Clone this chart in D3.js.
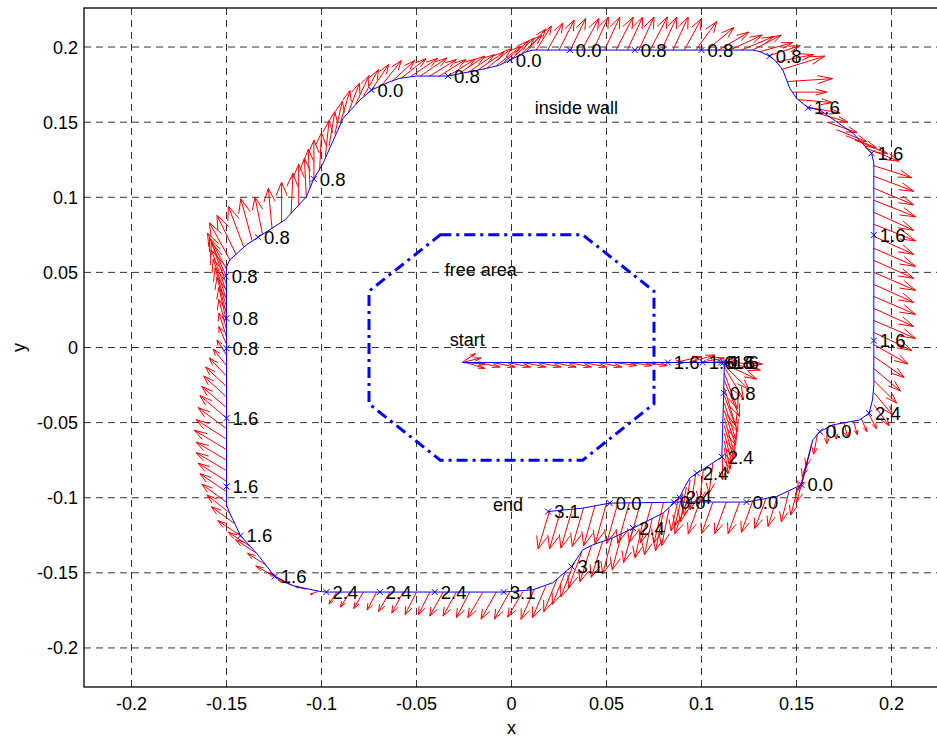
<!DOCTYPE html>
<html>
<head>
<meta charset="utf-8">
<script src="https://cdn.jsdelivr.net/npm/d3@7"></script>
<style>
  body { margin: 0; background: #fff; }
  text { font-family: "Liberation Sans", Arial, Helvetica, sans-serif; fill: #000; }
</style>
</head>
<body>
<svg id="chart" width="937" height="737"></svg>
<script>
// ---- axes ----
const xTickValues = [-0.2, -0.15, -0.1, -0.05, 0, 0.05, 0.1, 0.15, 0.2];
const xTickLabels = ["-0.2", "-0.15", "-0.1", "-0.05", "0", "0.05", "0.1", "0.15", "0.2"];
const yTickValues = [-0.2, -0.15, -0.1, -0.05, 0, 0.05, 0.1, 0.15, 0.2];
const yTickLabels = ["-0.2", "-0.15", "-0.1", "-0.05", "0", "0.05", "0.1", "0.15", "0.2"];

// ---- free area (octagon) ----
const freeArea = [
  [-0.0375, 0.075], [0.0375, 0.075], [0.075, 0.0375], [0.075, -0.0375],
  [0.0375, -0.075], [-0.0375, -0.075], [-0.075, -0.0375], [-0.075, 0.0375]
];

// ---- robot track (x, y) ----
const track = [
  [-0.026, -0.010], [0.112, -0.010], [0.1117, -0.030], [0.1107, -0.0728],
  [0.1044, -0.0781], [0.0991, -0.0826], [0.0975, -0.0836], [0.0939, -0.0868],
  [0.0913, -0.0925], [0.0886, -0.0992], [0.086, -0.1029], [0.1237, -0.1029],
  [0.1395, -0.0992], [0.1526, -0.0914], [0.1586, -0.0615], [0.1623, -0.056],
  [0.1691, -0.0515], [0.1833, -0.0482], [0.1882, -0.0437], [0.1900, -0.0349],
  [0.1907, -0.025], [0.1907, 0.1228], [0.1895, 0.1293], [0.1798, 0.1426],
  [0.1623, 0.1581], [0.1561, 0.1596], [0.1500, 0.1659], [0.1465, 0.1725],
  [0.1428, 0.1847], [0.1395, 0.1902], [0.1359, 0.1940], [0.1307, 0.1969],
  [0.1272, 0.1980], [0.0114, 0.1980], [0.0079, 0.1969], [-0.0009, 0.1913],
  [-0.0062, 0.1880], [-0.0132, 0.1858], [-0.0334, 0.1807], [-0.0500, 0.1807],
  [-0.0588, 0.1792], [-0.0641, 0.1769], [-0.0737, 0.1714], [-0.0798, 0.1647],
  [-0.0886, 0.1526], [-0.0992, 0.1226], [-0.1041, 0.1122], [-0.1079, 0.1004],
  [-0.1193, 0.0849], [-0.1334, 0.0734], [-0.1395, 0.0683], [-0.1483, 0.0583],
  [-0.1500, 0.0538], [-0.1500, -0.1047], [-0.1483, -0.1102], [-0.1426, -0.1253],
  [-0.1342, -0.1369], [-0.1246, -0.1524], [-0.1149, -0.1586], [-0.1009, -0.1624],
  [-0.0974, -0.1628], [-0.0041, -0.1628], [0.0112, -0.1613], [0.0217, -0.1566],
  [0.0316, -0.1458], [0.0375, -0.1347], [0.0428, -0.1314], [0.0533, -0.1267],
  [0.0640, -0.1202], [0.0798, -0.1102], [0.0860, -0.1030], [0.0517, -0.1036],
  [0.0377, -0.1069], [0.0193, -0.1092]
];

// ---- sampled poses with their labels ----
const poses = [
  [0.0823, -0.010, "1.6"], [0.1007, -0.010, "1.6"], [0.1103, -0.010, "0.8"],
  [0.1115, -0.010, "1.6"], [0.1135, -0.010, "1.6"], [0.1117, -0.0302, "0.8"],
  [0.1107, -0.0728, "2.4"], [0.0975, -0.0836, "2.4"], [0.0855, -0.1030, "0.0"],
  [0.0886, -0.1000, "2.4"], [0.1237, -0.1029, "0.0"], [0.1526, -0.0914, "0.0"],
  [0.1623, -0.0560, "0.0"], [0.1882, -0.0437, "2.4"], [0.1907, 0.0046, "1.6"],
  [0.1907, 0.0749, "1.6"], [0.1895, 0.1293, "1.6"], [0.1561, 0.1596, "1.6"],
  [0.1359, 0.1940, "0.8"], [0.1000, 0.1980, "0.8"], [0.0649, 0.1980, "0.8"],
  [0.0307, 0.1980, "0.0"], [-0.0009, 0.1913, "0.0"], [-0.0334, 0.1807, "0.8"],
  [-0.0737, 0.1714, "0.0"], [-0.1041, 0.1122, "0.8"], [-0.1334, 0.0734, "0.8"],
  [-0.1504, 0.0473, "0.8"], [-0.1500, 0.0195, "0.8"], [-0.1500, -0.0005, "0.8"],
  [-0.1500, -0.0470, "1.6"], [-0.1500, -0.0925, "1.6"], [-0.1426, -0.1253, "1.6"],
  [-0.1246, -0.1524, "1.6"], [-0.0974, -0.1628, "2.4"], [-0.0693, -0.1628, "2.4"],
  [-0.0404, -0.1628, "2.4"], [-0.0041, -0.1628, "3.1"], [0.0316, -0.1458, "3.1"],
  [0.0640, -0.1202, "2.4"], [0.0517, -0.1036, "0.0"], [0.0193, -0.1092, "3.1"]
];

// ---- direction vectors along the track: x, y, u, v ----
const arrows = [
  [-0.026,-0.010,0.007,0.006], [-0.026,-0.010,0.010,0.003], [-0.025,-0.010,0.011,-0.001],
  [-0.024,-0.010,0.010,-0.004], [-0.018,-0.010,0.012,-0.003], [-0.010,-0.010,0.012,-0.003],
  [-0.002,-0.010,0.012,-0.003], [0.006,-0.010,0.012,-0.003], [0.014,-0.010,0.012,-0.003],
  [0.022,-0.010,0.012,-0.003], [0.030,-0.010,0.012,-0.003], [0.038,-0.010,0.012,-0.003],
  [0.046,-0.010,0.012,-0.003], [0.054,-0.010,0.012,-0.002], [0.062,-0.010,0.012,-0.002],
  [0.070,-0.010,0.012,-0.002], [0.078,-0.010,0.013,0.000], [0.086,-0.010,0.014,0.004],
  [0.093,-0.010,0.014,0.005], [0.099,-0.010,0.013,0.003], [0.105,-0.010,0.014,0.001],
  [0.112,-0.010,0.020,-0.001], [0.112,-0.010,0.019,-0.005], [0.112,-0.011,0.017,-0.010],
  [0.112,-0.012,0.013,-0.016], [0.112,-0.013,0.010,-0.021],
  [0.112,-0.017,0.007,-0.024], [0.112,-0.022,0.008,-0.024], [0.112,-0.027,0.006,-0.025],
  [0.112,-0.032,0.007,-0.024], [0.112,-0.037,0.006,-0.024], [0.112,-0.042,0.006,-0.023],
  [0.112,-0.047,0.005,-0.022], [0.112,-0.052,0.005,-0.022], [0.112,-0.057,0.004,-0.020],
  [0.112,-0.062,0.003,-0.019], [0.112,-0.067,0.002,-0.017], [0.111,-0.072,0.000,-0.016],
  [0.106,-0.077,-0.002,-0.020], [0.101,-0.081,-0.002,-0.022], [0.097,-0.084,-0.003,-0.024],
  [0.094,-0.088,-0.003,-0.024], [0.092,-0.093,-0.003,-0.023], [0.090,-0.097,-0.004,-0.022],
  [0.088,-0.100,-0.004,-0.022],
  [0.092,-0.103,-0.006,-0.021], [0.099,-0.103,-0.006,-0.021], [0.106,-0.103,-0.006,-0.021],
  [0.113,-0.103,-0.006,-0.021], [0.120,-0.103,-0.006,-0.021], [0.127,-0.102,-0.006,-0.021],
  [0.134,-0.1005,-0.006,-0.020], [0.140,-0.099,-0.005,-0.020], [0.146,-0.096,-0.004,-0.020],
  [0.151,-0.0925,-0.004,-0.019],
  [0.154,-0.085,-0.004,-0.018], [0.156,-0.077,-0.005,-0.018], [0.157,-0.070,-0.004,-0.016],
  [0.158,-0.064,-0.003,-0.015], [0.161,-0.058,-0.002,-0.013],
  [0.166,-0.053,0.000,-0.011], [0.170,-0.051,0.001,-0.010], [0.175,-0.050,0.002,-0.010],
  [0.180,-0.049,0.002,-0.009], [0.184,-0.047,0.003,-0.009], [0.188,-0.044,0.004,-0.010],
  [0.1907,-0.038,0.008,-0.014], [0.1907,-0.030,0.010,-0.015], [0.1907,-0.022,0.012,-0.015],
  [0.1907,-0.014,0.014,-0.015], [0.1907,-0.006,0.016,-0.014], [0.1907,0.002,0.018,-0.013],
  [0.1907,0.010,0.020,-0.012], [0.1907,0.018,0.022,-0.012], [0.1907,0.026,0.021,-0.012],
  [0.1907,0.034,0.022,-0.012], [0.1907,0.042,0.021,-0.012], [0.1907,0.050,0.022,-0.012],
  [0.1907,0.058,0.021,-0.012], [0.1907,0.066,0.022,-0.012], [0.1907,0.074,0.021,-0.012],
  [0.1907,0.082,0.022,-0.011], [0.1907,0.090,0.021,-0.012], [0.1907,0.098,0.022,-0.011],
  [0.1907,0.106,0.021,-0.011], [0.1907,0.114,0.021,-0.010], [0.1907,0.121,0.020,-0.008],
  [0.186,0.133,0.018,-0.009], [0.181,0.138,0.017,-0.009], [0.176,0.141,0.016,-0.008],
  [0.171,0.145,0.016,-0.008], [0.166,0.150,0.016,-0.007], [0.161,0.156,0.016,-0.006],
  [0.156,0.160,0.017,-0.004], [0.151,0.165,0.018,-0.002], [0.148,0.170,0.018,0.000],
  [0.145,0.177,0.024,0.002], [0.142,0.185,0.023,0.009], [0.139,0.190,0.020,0.005],
  [0.135,0.194,0.017,0.007], [0.131,0.197,0.017,0.006], [0.127,0.198,0.015,0.010],
  [0.121,0.198,0.017,0.009], [0.115,0.198,0.017,0.010], [0.109,0.198,0.016,0.012],
  [0.103,0.198,0.014,0.015], [0.097,0.198,0.011,0.019], [0.091,0.198,0.009,0.021],
  [0.085,0.198,0.008,0.022], [0.079,0.198,0.008,0.022], [0.073,0.198,0.009,0.022],
  [0.067,0.198,0.008,0.022], [0.061,0.198,0.008,0.022], [0.055,0.198,0.009,0.022],
  [0.049,0.198,0.008,0.022], [0.043,0.198,0.008,0.022], [0.037,0.198,0.009,0.021],
  [0.031,0.198,0.008,0.021], [0.025,0.198,0.008,0.020], [0.019,0.198,0.008,0.018],
  [0.013,0.198,0.008,0.016], [0.008,0.197,0.010,0.015],
  [0.004,0.194,0.012,0.014], [0.000,0.192,0.012,0.014], [-0.004,0.190,0.013,0.014],
  [-0.008,0.1875,0.013,0.013], [-0.013,0.186,0.013,0.013], [-0.018,0.1845,0.014,0.012],
  [-0.023,0.183,0.014,0.012], [-0.028,0.182,0.014,0.012], [-0.033,0.181,0.014,0.011],
  [-0.038,0.1807,0.014,0.011], [-0.043,0.1807,0.014,0.011], [-0.048,0.1807,0.014,0.012],
  [-0.053,0.1804,0.014,0.012], [-0.058,0.1793,0.013,0.013], [-0.063,0.177,0.012,0.014],
  [-0.068,0.175,0.010,0.016], [-0.0737,0.1714,0.009,0.017], [-0.078,0.167,0.008,0.018],
  [-0.082,0.162,0.007,0.019], [-0.086,0.156,0.006,0.020], [-0.090,0.150,0.005,0.021],
  [-0.093,0.142,0.004,0.022], [-0.096,0.134,0.003,0.023], [-0.098,0.127,0.002,0.024],
  [-0.101,0.118,0.001,0.025], [-0.104,0.112,0.000,0.026], [-0.106,0.106,-0.001,0.026],
  [-0.108,0.100,-0.001,0.026], [-0.112,0.095,0.000,0.027], [-0.116,0.089,0.001,0.027],
  [-0.121,0.083,0.000,0.027], [-0.126,0.079,-0.002,0.027], [-0.131,0.075,-0.004,0.025],
  [-0.1365,0.071,-0.006,0.028], [-0.141,0.067,-0.008,0.027], [-0.145,0.062,-0.010,0.026],
  [-0.148,0.058,-0.011,0.025],
  [-0.150,0.052,-0.010,0.024], [-0.150,0.047,-0.009,0.026], [-0.150,0.042,-0.008,0.028],
  [-0.150,0.037,-0.008,0.028], [-0.150,0.032,-0.007,0.027], [-0.150,0.027,-0.006,0.026],
  [-0.150,0.022,-0.005,0.025], [-0.150,0.017,-0.004,0.023], [-0.150,0.012,-0.004,0.020],
  [-0.150,0.007,-0.004,0.016], [-0.150,0.002,-0.004,0.012],
  [-0.150,-0.005,-0.005,0.010], [-0.150,-0.012,-0.007,0.011], [-0.150,-0.019,-0.009,0.012],
  [-0.150,-0.026,-0.011,0.013], [-0.150,-0.033,-0.012,0.014], [-0.150,-0.040,-0.013,0.014],
  [-0.150,-0.047,-0.014,0.015], [-0.150,-0.054,-0.015,0.014], [-0.150,-0.061,-0.016,0.013],
  [-0.150,-0.068,-0.017,0.013], [-0.150,-0.075,-0.016,0.012], [-0.150,-0.082,-0.016,0.012],
  [-0.150,-0.089,-0.015,0.012], [-0.150,-0.096,-0.014,0.012], [-0.150,-0.103,-0.013,0.012],
  [-0.1483,-0.1102,-0.012,0.012], [-0.146,-0.117,-0.012,0.011], [-0.1426,-0.1253,-0.012,0.010],
  [-0.138,-0.132,-0.011,0.009], [-0.1342,-0.1369,-0.011,0.009], [-0.129,-0.145,-0.010,0.008],
  [-0.1246,-0.1524,-0.010,0.007], [-0.119,-0.156,-0.009,0.006], [-0.1149,-0.1586,-0.008,0.004],
  [-0.108,-0.161,-0.006,0.002], [-0.102,-0.1624,-0.004,-0.002],
  [-0.092,-0.1628,-0.004,-0.008], [-0.085,-0.1628,-0.005,-0.010], [-0.078,-0.1628,-0.005,-0.011],
  [-0.071,-0.1628,-0.005,-0.012], [-0.064,-0.1628,-0.006,-0.013], [-0.057,-0.1628,-0.006,-0.014],
  [-0.050,-0.1628,-0.006,-0.015], [-0.043,-0.1628,-0.006,-0.015], [-0.036,-0.1628,-0.007,-0.016],
  [-0.029,-0.1628,-0.007,-0.016], [-0.022,-0.1628,-0.007,-0.017], [-0.015,-0.1628,-0.008,-0.017],
  [-0.008,-0.1628,-0.008,-0.018], [-0.001,-0.1628,-0.008,-0.018], [0.006,-0.1625,-0.008,-0.017],
  [0.012,-0.161,-0.007,-0.020], [0.018,-0.159,-0.007,-0.021], [0.024,-0.154,-0.007,-0.022],
  [0.0285,-0.149,-0.007,-0.022], [0.033,-0.143,-0.007,-0.023], [0.037,-0.136,-0.007,-0.024],
  [0.042,-0.132,-0.006,-0.024], [0.048,-0.129,-0.006,-0.024], [0.053,-0.1267,-0.005,-0.024],
  [0.058,-0.124,-0.005,-0.024], [0.064,-0.1202,-0.005,-0.023], [0.069,-0.117,-0.004,-0.023],
  [0.074,-0.114,-0.004,-0.024], [0.0798,-0.1102,-0.004,-0.025], [0.083,-0.107,-0.004,-0.025],
  [0.080,-0.103,-0.005,-0.027], [0.074,-0.103,-0.006,-0.027], [0.068,-0.103,-0.006,-0.027],
  [0.062,-0.1033,-0.006,-0.027], [0.056,-0.1035,-0.006,-0.027], [0.050,-0.1038,-0.006,-0.027],
  [0.044,-0.105,-0.006,-0.027], [0.038,-0.1065,-0.006,-0.026], [0.032,-0.1075,-0.006,-0.026],
  [0.026,-0.108,-0.006,-0.026], [0.020,-0.109,-0.006,-0.025]
];

// ---- annotations ----
const notes = [
  { x: -0.0325, y: 0.005, text: "start" },
  { x: -0.0098, y: -0.1047, text: "end" },
  { x: 0.0123, y: 0.160, text: "inside wall" },
  { x: -0.0351, y: 0.0516, text: "free area" }
];

// ---- layout ----
const W = 937, H = 737;
const plot = { left: 84, top: 8, right: 939, bottom: 687 };
const x = d3.scaleLinear().domain([-0.225, 0.225]).range([plot.left, plot.right]);
const y = d3.scaleLinear().domain([-0.226, 0.226]).range([plot.bottom, plot.top]);

const svg = d3.select("#chart");
svg.append("rect").attr("width", W).attr("height", H).attr("fill", "#fff");

svg.append("defs").append("clipPath").attr("id", "plotclip")
  .append("rect").attr("x", plot.left).attr("y", plot.top)
  .attr("width", plot.right - plot.left).attr("height", plot.bottom - plot.top);

// grid
const grid = svg.append("g").attr("stroke", "#000").attr("stroke-width", 0.8)
  .attr("stroke-dasharray", "7,5").attr("fill", "none");
grid.selectAll("line.gx").data(xTickValues).join("line").attr("class", "gx")
  .attr("x1", d => x(d)).attr("x2", d => x(d))
  .attr("y1", plot.top).attr("y2", plot.bottom);
grid.selectAll("line.gy").data(yTickValues).join("line").attr("class", "gy")
  .attr("y1", d => y(d)).attr("y2", d => y(d))
  .attr("x1", plot.left).attr("x2", plot.right);

const body = svg.append("g").attr("clip-path", "url(#plotclip)");

// free area octagon
body.append("path")
  .datum(freeArea)
  .attr("d", d3.line().x(d => x(d[0])).y(d => y(d[1])).curve(d3.curveLinearClosed))
  .attr("fill", "none").attr("stroke", "#0000ff").attr("stroke-width", 3)
  .attr("stroke-dasharray", "11,5,3,5");

// quiver arrows (shaft + open head, head geometry in data units)
const alpha = 0.33, beta = 0.33;
const quiver = body.append("g").attr("stroke", "#ff0000").attr("stroke-width", 1)
  .attr("fill", "none");
quiver.selectAll("path").data(arrows).join("path")
  .attr("d", ([x0, y0, u, v]) => {
    const tx = x0 + u, ty = y0 + v;
    const h1x = tx - alpha * (u + beta * v), h1y = ty - alpha * (v - beta * u);
    const h2x = tx - alpha * (u - beta * v), h2y = ty - alpha * (v + beta * u);
    return `M${x(x0)},${y(y0)}L${x(tx)},${y(ty)}` +
           `M${x(h1x)},${y(h1y)}L${x(tx)},${y(ty)}L${x(h2x)},${y(h2y)}`;
  });

// track
body.append("path")
  .datum(track)
  .attr("d", d3.line().x(d => x(d[0])).y(d => y(d[1])))
  .attr("fill", "none").attr("stroke", "#0000ff").attr("stroke-width", 1);

// pose markers
body.append("g").attr("stroke", "#0000ff").attr("stroke-width", 1)
  .selectAll("path").data(poses).join("path")
  .attr("d", d => {
    const cx = x(d[0]), cy = y(d[1]), r = 3;
    return `M${cx - r},${cy - r}L${cx + r},${cy + r}M${cx - r},${cy + r}L${cx + r},${cy - r}`;
  });

// pose labels
svg.append("g").selectAll("text").data(poses).join("text")
  .attr("x", d => x(d[0]) + 6).attr("y", d => y(d[1]))
  .attr("dy", "0.36em").attr("font-size", 18.5)
  .text(d => d[2]);

// annotations
svg.append("g").selectAll("text").data(notes).join("text")
  .attr("x", d => x(d.x)).attr("y", d => y(d.y))
  .attr("dy", "0.36em").attr("font-size", 18)
  .text(d => d.text);

// axes frame
svg.append("rect")
  .attr("x", plot.left).attr("y", plot.top)
  .attr("width", plot.right - plot.left).attr("height", plot.bottom - plot.top)
  .attr("fill", "none").attr("stroke", "#000").attr("stroke-width", 1.3);

// tick labels
svg.append("g").selectAll("text").data(xTickValues).join("text")
  .attr("x", d => x(d)).attr("y", plot.bottom + 17)
  .attr("text-anchor", "middle").attr("dy", "0.36em").attr("font-size", 18)
  .text((d, i) => xTickLabels[i]);
svg.append("g").selectAll("text").data(yTickValues).join("text")
  .attr("x", plot.left - 6).attr("y", d => y(d))
  .attr("text-anchor", "end").attr("dy", "0.36em").attr("font-size", 18)
  .text((d, i) => yTickLabels[i]);

// axis titles
svg.append("text").attr("x", x(0)).attr("y", 728)
  .attr("text-anchor", "middle").attr("dy", "0.36em").attr("font-size", 18).text("x");
svg.append("text").attr("transform", `translate(19,${y(0)}) rotate(-90)`)
  .attr("text-anchor", "middle").attr("dy", "0.36em").attr("font-size", 18).text("y");
</script>
</body>
</html>
